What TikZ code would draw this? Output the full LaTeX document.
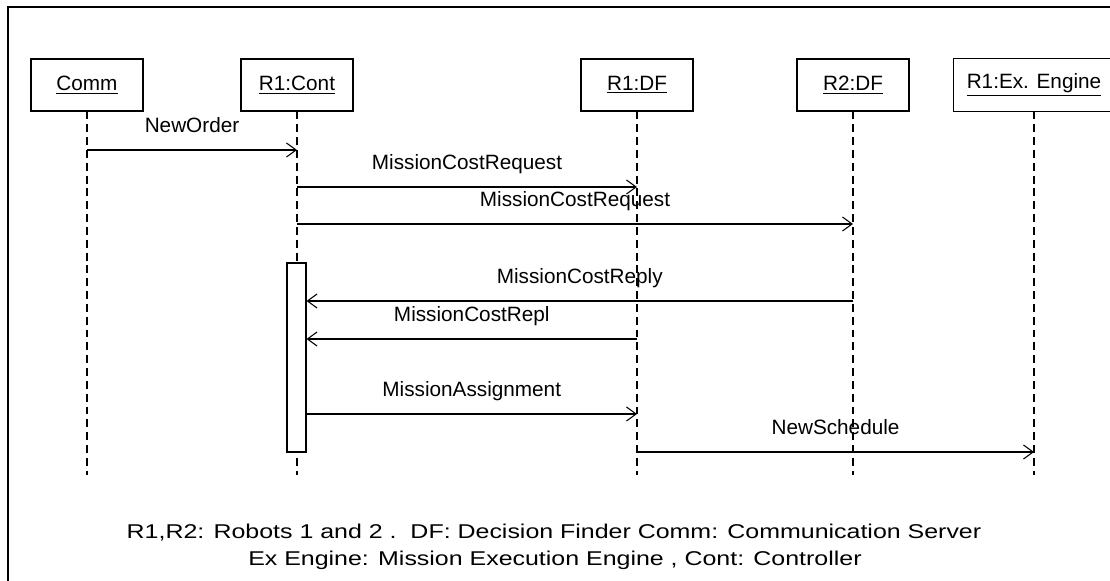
\documentclass[tikz,border=0pt]{standalone}
\usepackage{fontspec}
\setmainfont{Liberation Sans}
\usetikzlibrary{arrows.meta,calc}

\begin{document}
\begin{tikzpicture}[
  x=0.02cm, y=-0.02cm,
  obj/.style={draw, line width=0.6pt, minimum width=2.24cm, minimum height=1.04cm, inner sep=0pt, font=\fontsize{11.8}{14}\selectfont},
  life/.style={dash pattern=on 4.5pt off 2.8pt, line width=0.6pt},
  msg/.style={-{Straight Barb[length=5.5pt,width=8pt]}, line width=0.6pt},
  lbl/.style={anchor=base, yshift=10.2pt, inner sep=0pt, font=\fontsize{11.8}{14}\selectfont},
  actbox/.style={draw, fill=white, line width=0.6pt, minimum width=0.38cm, minimum height=3.78cm, inner sep=0pt},
  legend/.style={anchor=base, inner sep=0pt, font=\fontsize{14.2}{15}\selectfont}
]
\useasboundingbox (0,0) rectangle (1110,581);
\clip (0,0) rectangle (1110,581);
\draw[line width=1.2pt] (8,7) rectangle (1130,600);

\node[obj] (comm) at (87,85) {\underline{Comm}};
\node[obj] (cont) at (297,85) {\underline{R1:Cont}};
\node[obj] (df1) at (637,85) {\underline{R1:DF}};
\node[obj] (df2) at (853,85) {\underline{R2:DF}};
\node[obj, minimum width=3.2cm, minimum height=1.04cm, draw=none] (eng) at (1034,85) {\underline{R1:Ex. Engine}};
\draw[line width=0.6pt] (eng.north east) -- (eng.north west) -- (eng.south west) -- (eng.south east);

\coordinate (end) at (0,475);
\foreach \o in {comm,cont,df1,df2,eng}
  \draw[life] (\o) -- (\o |- end);

\node[actbox] (act) at (296.5,357.5) {};

\coordinate (r1) at (0,150);
\coordinate (r2) at (0,187);
\coordinate (r3) at (0,224);
\coordinate (r4) at (0,301);
\coordinate (r5) at (0,339);
\coordinate (r6) at (0,414);
\coordinate (r7) at (0,452);

\draw[msg] (comm |- r1) -- node[lbl] {NewOrder} (cont |- r1);
\draw[msg] (cont |- r2) -- node[lbl] {MissionCostRequest} (df1 |- r2);
\draw[msg] (cont |- r3) -- node[lbl] {MissionCostRequest} (df2 |- r3);
\draw[msg] (df2 |- r4) -- node[lbl] {MissionCostReply} (act.east |- r4);
\draw[msg] (df1 |- r5) -- node[lbl] {MissionCostRepl} (act.east |- r5);
\draw[msg] (act.east |- r6) -- node[lbl] {MissionAssignment} (df1 |- r6);
\draw[msg] (df1 |- r7) -- node[lbl] {NewSchedule} (eng |- r7);

\node[legend] (leg1) at (554,538) {\scalebox{1}[0.8]{R1,R2: Robots 1 and 2 .\ \ DF: Decision Finder Comm: Communication Server}};
\node[legend] (leg2) at (555,565) {\scalebox{1}[0.8]{Ex Engine: Mission Execution Engine , Cont: Controller}};
\end{tikzpicture}
\end{document}
